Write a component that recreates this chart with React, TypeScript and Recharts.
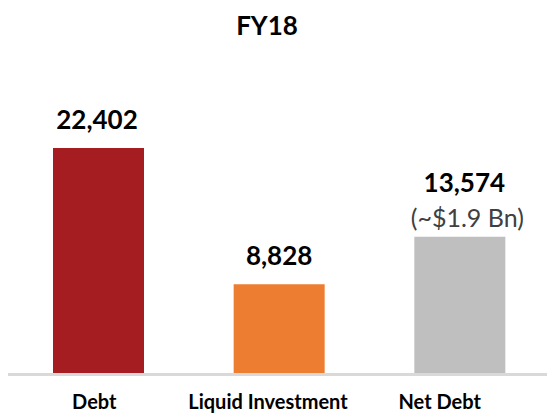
import { Bar, BarChart, Cell, LabelList, XAxis, YAxis } from "recharts";

const categories = ["Debt", "Liquid Investment", "Net Debt"];
const amounts = [22402, 8828, 13574];
const notes = ["", "", "(~$1.9 Bn)"];
const title = "FY18";

const COLORS = ["#A51C21", "#ED7D31", "#BFBFBF"];
const FONT = "Lato, 'Open Sans', sans-serif";

// the original's text boxes sit a little off the bar centres
const TICK_SHIFT = [-4, -11, -20];
const LABEL_SHIFT = [-1.5, 0, 4.5];

const data = categories.map((name, i) => ({ name, amount: amounts[i], note: notes[i] }));

// eslint-disable-next-line @typescript-eslint/no-explicit-any
function ValueLabel(props: any) {
  const { x, y, width, index } = props;
  const item = data[index];
  if (!item) return null;
  const cx = x + width / 2 + LABEL_SHIFT[index];
  const hasNote = item.note !== "";
  return (
    <g>
      <text
        x={cx}
        y={hasNote ? y - 45 : y - 19}
        textAnchor="middle"
        fontFamily={FONT}
        fontWeight={700}
        fontSize={26}
        fill="#000"
      >
        {item.amount.toLocaleString("en-US")}
      </text>
      {hasNote && (
        <text x={cx + 3} y={y - 10} textAnchor="middle" fontFamily={FONT} fontSize={25} fill="#404040">
          {item.note}
        </text>
      )}
    </g>
  );
}

// eslint-disable-next-line @typescript-eslint/no-explicit-any
function CategoryTick(props: any) {
  const { x, index, payload } = props;
  return (
    <text
      x={x + (TICK_SHIFT[index] ?? 0)}
      y={409}
      textAnchor="middle"
      fontFamily={FONT}
      fontWeight={700}
      fontSize={20}
      fill="#000"
    >
      {payload.value}
    </text>
  );
}

export default function App() {
  return (
    <div style={{ position: "absolute", left: 0, top: 0, width: 547, height: 414, background: "#fff" }}>
      <svg width={547} height={60} style={{ position: "absolute", left: 0, top: 0 }}>
        <text x={267} y={35} textAnchor="middle" fontFamily={FONT} fontWeight={700} fontSize={26} fill="#000">
          {title}
        </text>
      </svg>
      <BarChart width={547} height={414} data={data} margin={{ top: 122, right: -3, left: 8, bottom: 0 }}>
        <XAxis
          dataKey="name"
          height={41}
          axisLine={{ stroke: "#D9D9D9", strokeWidth: 3, transform: "translate(0,1.5)" }}
          tickLine={false}
          interval={0}
          tick={<CategoryTick />}
        />
        <YAxis hide domain={[0, 25000]} />
        <Bar dataKey="amount" barSize={91} isAnimationActive={false}>
          {data.map((item, index) => (
            <Cell key={item.name} fill={COLORS[index]} />
          ))}
          <LabelList dataKey="amount" content={<ValueLabel />} />
        </Bar>
      </BarChart>
    </div>
  );
}
